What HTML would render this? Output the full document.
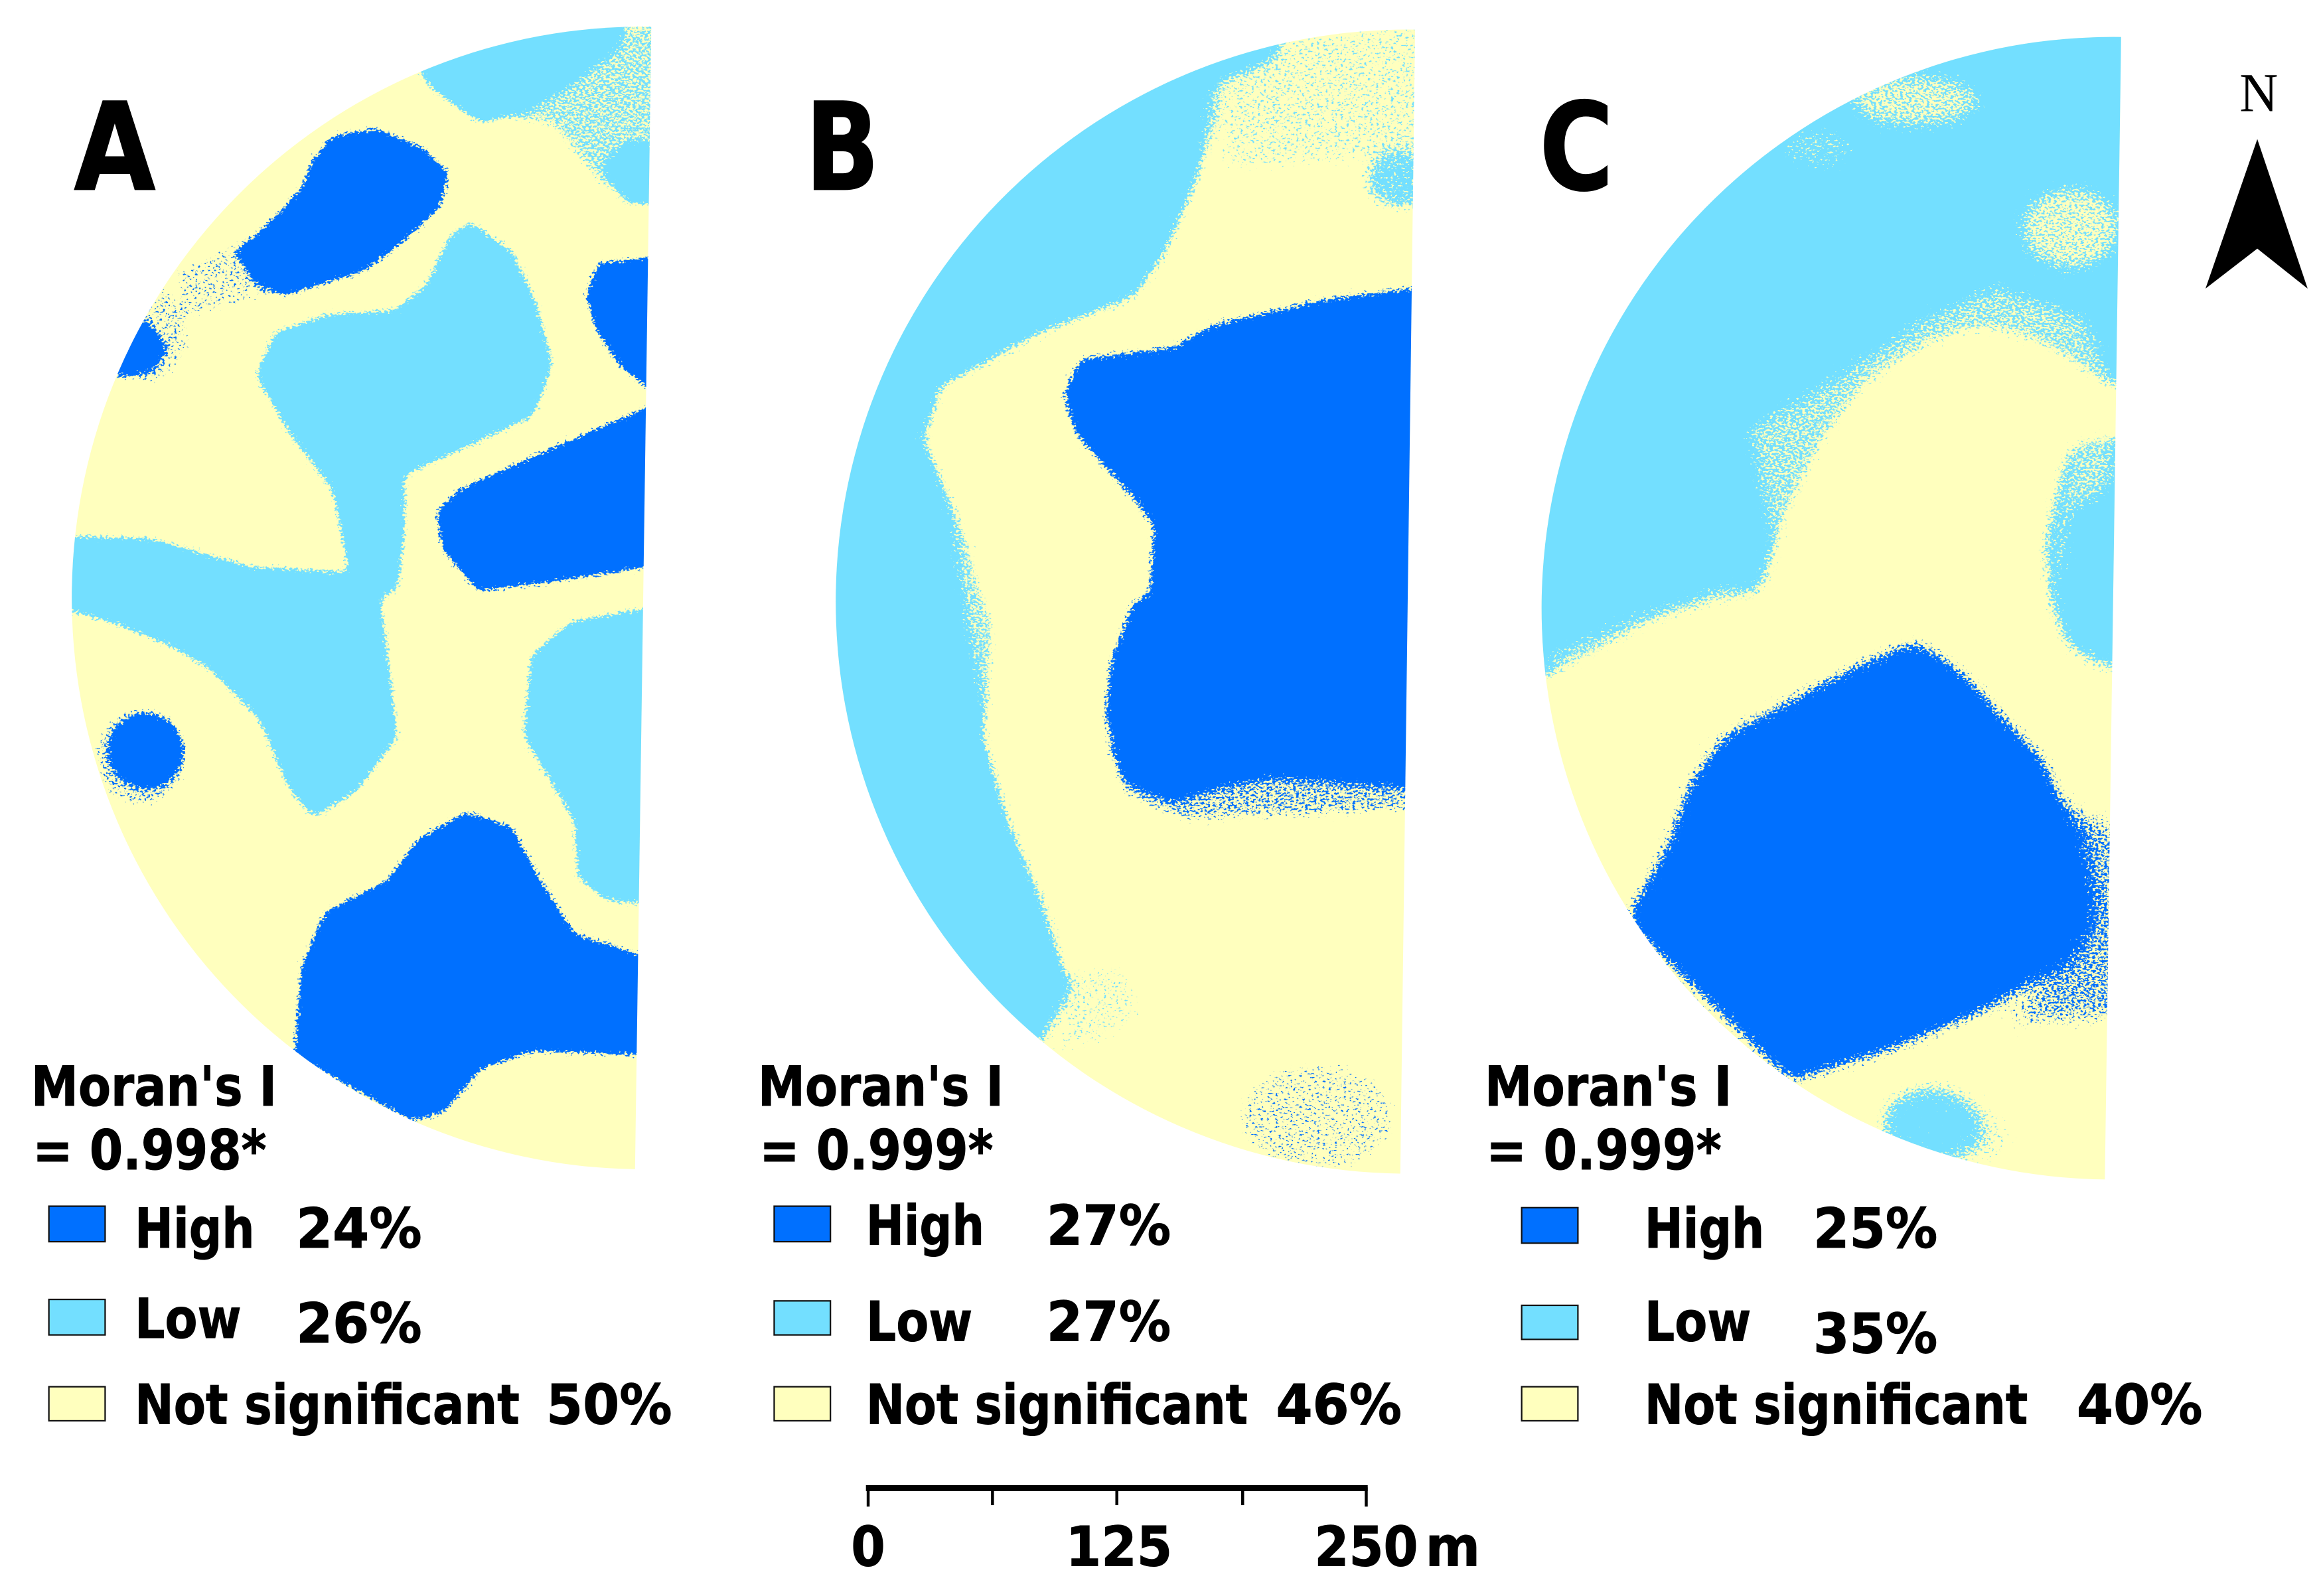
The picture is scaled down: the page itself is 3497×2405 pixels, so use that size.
<!DOCTYPE html>
<html lang="en">
<head>
<meta charset="utf-8">
<title>Moran's I cluster maps</title>
<style>
html,body{margin:0;padding:0;background:#fff;width:3497px;height:2405px;overflow:hidden}
svg{display:block}
.t{font-family:"DejaVu Sans","Liberation Sans",sans-serif;font-weight:700;fill:#000}
.h{font-size:37px;stroke:#000;stroke-width:.45px}
.p{font-size:82px;stroke:#000;stroke-width:.8px}
.sw{stroke:#111;stroke-width:1}
.hi{fill:#0070ff}
.lo{fill:#73dfff}
.ns{fill:#ffffbe}
</style>
</head>
<body>
<svg xmlns="http://www.w3.org/2000/svg" width="3497" height="2405" viewBox="0 0 1568 1078.4">
<defs>
<filter id="hiA" filterUnits="userSpaceOnUse" x="0" y="0" width="480" height="830" color-interpolation-filters="sRGB">
  <feGaussianBlur in="SourceAlpha" stdDeviation="3.2" result="b"/>
  <feTurbulence type="fractalNoise" baseFrequency="0.5 0.75" numOctaves="2" seed="4" result="t"/>
  <feColorMatrix in="t" type="matrix" values="0 0 0 0 0 0 0 0 0 0 0 0 0 0 0 1 0 0 0 0" result="n"/>
  <feComposite in="b" in2="n" operator="arithmetic" k1="0" k2="1" k3="1" k4="0" result="s"/>
  <feColorMatrix in="s" type="matrix" values="0 0 0 0 0 0 0 0 0 0 0 0 0 0 0 0 0 0 20 -19" result="m"/>
  <feFlood flood-color="#0070ff"/>
  <feComposite in2="m" operator="in"/>
</filter>
<filter id="loA" filterUnits="userSpaceOnUse" x="0" y="0" width="480" height="830" color-interpolation-filters="sRGB">
  <feGaussianBlur in="SourceAlpha" stdDeviation="3.6" result="b"/>
  <feTurbulence type="fractalNoise" baseFrequency="0.5 0.75" numOctaves="2" seed="7" result="t"/>
  <feColorMatrix in="t" type="matrix" values="0 0 0 0 0 0 0 0 0 0 0 0 0 0 0 1 0 0 0 0" result="n"/>
  <feComposite in="b" in2="n" operator="arithmetic" k1="0" k2="1" k3="1" k4="0" result="s"/>
  <feColorMatrix in="s" type="matrix" values="0 0 0 0 0 0 0 0 0 0 0 0 0 0 0 0 0 0 20 -19" result="m"/>
  <feFlood flood-color="#73dfff"/>
  <feComposite in2="m" operator="in"/>
</filter>
<filter id="hiB" filterUnits="userSpaceOnUse" x="520" y="0" width="470" height="830" color-interpolation-filters="sRGB">
  <feGaussianBlur in="SourceAlpha" stdDeviation="4" result="b"/>
  <feTurbulence type="fractalNoise" baseFrequency="0.5 0.75" numOctaves="2" seed="11" result="t"/>
  <feColorMatrix in="t" type="matrix" values="0 0 0 0 0 0 0 0 0 0 0 0 0 0 0 1 0 0 0 0" result="n"/>
  <feComposite in="b" in2="n" operator="arithmetic" k1="0" k2="1" k3="1" k4="0" result="s"/>
  <feColorMatrix in="s" type="matrix" values="0 0 0 0 0 0 0 0 0 0 0 0 0 0 0 0 0 0 20 -19" result="m"/>
  <feFlood flood-color="#0070ff"/>
  <feComposite in2="m" operator="in"/>
</filter>
<filter id="loB" filterUnits="userSpaceOnUse" x="520" y="0" width="470" height="830" color-interpolation-filters="sRGB">
  <feGaussianBlur in="SourceAlpha" stdDeviation="5" result="b"/>
  <feTurbulence type="fractalNoise" baseFrequency="0.5 0.75" numOctaves="2" seed="13" result="t"/>
  <feColorMatrix in="t" type="matrix" values="0 0 0 0 0 0 0 0 0 0 0 0 0 0 0 1 0 0 0 0" result="n"/>
  <feComposite in="b" in2="n" operator="arithmetic" k1="0" k2="1" k3="1" k4="0" result="s"/>
  <feColorMatrix in="s" type="matrix" values="0 0 0 0 0 0 0 0 0 0 0 0 0 0 0 0 0 0 20 -19" result="m"/>
  <feFlood flood-color="#73dfff"/>
  <feComposite in2="m" operator="in"/>
</filter>
<filter id="nsB" filterUnits="userSpaceOnUse" x="520" y="0" width="470" height="830" color-interpolation-filters="sRGB">
  <feGaussianBlur in="SourceAlpha" stdDeviation="5" result="b"/>
  <feTurbulence type="fractalNoise" baseFrequency="0.5 0.75" numOctaves="2" seed="15" result="t"/>
  <feColorMatrix in="t" type="matrix" values="0 0 0 0 0 0 0 0 0 0 0 0 0 0 0 1 0 0 0 0" result="n"/>
  <feComposite in="b" in2="n" operator="arithmetic" k1="0" k2="1" k3="1" k4="0" result="s"/>
  <feColorMatrix in="s" type="matrix" values="0 0 0 0 0 0 0 0 0 0 0 0 0 0 0 0 0 0 20 -19" result="m"/>
  <feFlood flood-color="#ffffbe"/>
  <feComposite in2="m" operator="in"/>
</filter>
<filter id="hiC" filterUnits="userSpaceOnUse" x="1000" y="0" width="470" height="830" color-interpolation-filters="sRGB">
  <feGaussianBlur in="SourceAlpha" stdDeviation="7" result="b"/>
  <feTurbulence type="fractalNoise" baseFrequency="0.5 0.75" numOctaves="2" seed="17" result="t"/>
  <feColorMatrix in="t" type="matrix" values="0 0 0 0 0 0 0 0 0 0 0 0 0 0 0 1 0 0 0 0" result="n"/>
  <feComposite in="b" in2="n" operator="arithmetic" k1="0" k2="1" k3="1" k4="0" result="s"/>
  <feColorMatrix in="s" type="matrix" values="0 0 0 0 0 0 0 0 0 0 0 0 0 0 0 0 0 0 20 -19" result="m"/>
  <feFlood flood-color="#0070ff"/>
  <feComposite in2="m" operator="in"/>
</filter>
<filter id="loC" filterUnits="userSpaceOnUse" x="1000" y="0" width="470" height="830" color-interpolation-filters="sRGB">
  <feGaussianBlur in="SourceAlpha" stdDeviation="8" result="b"/>
  <feTurbulence type="fractalNoise" baseFrequency="0.5 0.75" numOctaves="2" seed="21" result="t"/>
  <feColorMatrix in="t" type="matrix" values="0 0 0 0 0 0 0 0 0 0 0 0 0 0 0 1 0 0 0 0" result="n"/>
  <feComposite in="b" in2="n" operator="arithmetic" k1="0" k2="1" k3="1" k4="0" result="s"/>
  <feColorMatrix in="s" type="matrix" values="0 0 0 0 0 0 0 0 0 0 0 0 0 0 0 0 0 0 20 -19" result="m"/>
  <feFlood flood-color="#73dfff"/>
  <feComposite in2="m" operator="in"/>
</filter>
<filter id="nsC" filterUnits="userSpaceOnUse" x="1000" y="0" width="470" height="830" color-interpolation-filters="sRGB">
  <feGaussianBlur in="SourceAlpha" stdDeviation="6" result="b"/>
  <feTurbulence type="fractalNoise" baseFrequency="0.5 0.75" numOctaves="2" seed="25" result="t"/>
  <feColorMatrix in="t" type="matrix" values="0 0 0 0 0 0 0 0 0 0 0 0 0 0 0 1 0 0 0 0" result="n"/>
  <feComposite in="b" in2="n" operator="arithmetic" k1="0" k2="1" k3="1" k4="0" result="s"/>
  <feColorMatrix in="s" type="matrix" values="0 0 0 0 0 0 0 0 0 0 0 0 0 0 0 0 0 0 20 -19" result="m"/>
  <feFlood flood-color="#ffffbe"/>
  <feComposite in2="m" operator="in"/>
</filter>
<clipPath id="clipA"><path d="M440,18 A1,1 0 0 0 429,790 Z"/></clipPath>
<clipPath id="clipB"><path d="M956,20 A1,1 0 0 0 946,793 Z"/></clipPath>
<clipPath id="clipC"><path d="M1433,25 A1,1 0 0 0 1422,797 Z"/></clipPath>
</defs>

<rect width="1568" height="1079" fill="#fff"/>

<!-- Panel A -->
<g clip-path="url(#clipA)">
  <rect class="ns" x="0" y="0" width="460" height="800"/>
  <g filter="url(#loA)" fill="#000">
    <polygon points="280,40 291,59 325,83 351,76 385,55 415,32 425,5 280,5"/>
    <polygon fill-opacity=".48" points="372,55 400,25 450,10 450,145 405,125 372,85 345,82"/>
    <polygon points="408,112 424,138 450,135 450,100 425,98"/>
    <polygon points="317,150 346,170 362,205 373,246 360,281 312,303 273,321 273,361 268,400 238,400 233,371 225,331 196,293 173,253 186,225 220,213 267,210 288,193 304,160"/>
    <polygon points="20,362 102,364 168,383 233,387 262,395 257,407 262,446 268,498 241,534 212,552 196,534 175,485 141,451 115,436 75,420 20,405"/>
    <polygon points="450,409 386,420 359,443 354,497 388,554 391,593 409,608 450,612"/>
  </g>
  <g filter="url(#hiA)" fill="#000">
    <polygon points="254,87 285,100 303,117 297,140 270,165 246,183 191,200 173,190 160,170 183,150 204,127 212,107 225,92"/>
    <polygon fill-opacity=".32" points="118,183 165,160 190,195 170,205 125,215"/>
    <polygon points="75,256 96,215 112,235 102,250"/>
    <ellipse fill-opacity=".32" cx="102" cy="226" rx="26" ry="34"/>
    <polygon points="450,173 404,178 396,200 404,225 420,248 450,272"/>
    <polygon points="450,270 373,303 310,331 295,346 299,371 323,399 365,394 450,381"/>
    <circle cx="99" cy="507" r="24"/>
    <ellipse fill-opacity=".38" cx="95" cy="512" rx="31" ry="33"/>
    <polygon points="315,549 346,559 365,595 388,631 450,651 450,713 360,710 325,722 299,752 278,757 199,713 204,652 220,616 262,595 283,567"/>
  </g>
</g>

<!-- Panel B -->
<g clip-path="url(#clipB)">
  <rect class="ns" x="520" y="0" width="460" height="810"/>
  <g filter="url(#loB)" fill="#000">
    <polygon points="703,703 722,667 703,608 680,554 664,498 669,420 661,402 651,361 624,298 635,261 701,225 766,200 787,170 808,122 819,85 822,54 858,39 872,10 530,0 530,810 680,790"/>
    <polygon fill-opacity=".33" points="820,60 865,25 970,10 970,100 900,112 825,115"/>
    <ellipse fill-opacity=".62" cx="947" cy="122" rx="26" ry="20"/>
    <polygon fill-opacity=".3" points="722,655 760,650 775,690 710,718"/>
  </g>
  <g filter="url(#nsB)" fill="#000">
    <polygon fill-opacity=".48" points="620,292 640,262 690,235 680,262 662,330 680,400 668,505 650,420 640,345"/>
    <polygon fill-opacity=".48" points="782,178 806,120 816,58 840,50 832,110 808,172"/>
  </g>
  <g filter="url(#hiB)" fill="#000">
    <polygon points="970,193 893,203 819,220 793,235 730,243 719,266 727,293 766,336 780,356 777,402 766,407 751,446 747,485 761,528 793,540 819,531 858,523 970,531"/>
    <polygon fill-opacity=".42" points="745,500 960,520 960,548 800,556 760,538"/>
    <ellipse fill-opacity=".3" cx="890" cy="755" rx="54" ry="37"/>
  </g>
</g>

<!-- Panel C -->
<g clip-path="url(#clipC)">
  <rect class="ns" x="1020" y="0" width="430" height="810"/>
  <g filter="url(#loC)" fill="#000">
    <polygon points="1020,468 1044,456 1110,420 1163,402 1189,400 1205,341 1233,290 1262,253 1307,227 1341,217 1383,230 1420,255 1460,270 1460,0 1020,0"/>
    <polygon points="1460,292 1399,303 1383,366 1386,407 1399,438 1426,451 1460,451"/>
    <ellipse cx="1304" cy="760" rx="34" ry="26" fill-opacity=".8"/>
    <ellipse cx="1335" cy="768" rx="28" ry="20" fill-opacity=".3"/>
  </g>
  <g filter="url(#nsC)" fill="#000">
    <ellipse fill-opacity=".52" cx="1294" cy="68" rx="46" ry="20"/>
    <ellipse fill-opacity=".33" cx="1228" cy="100" rx="26" ry="16"/>
    <ellipse fill-opacity=".55" cx="1399" cy="154" rx="36" ry="30"/>
    <polygon fill-opacity=".46" points="1178,288 1240,252 1300,212 1350,190 1410,212 1432,262 1300,270 1215,335 1198,385"/>
    <polygon fill-opacity=".46" points="1042,442 1110,412 1170,392 1195,412 1100,440 1050,468"/>
    <polygon fill-opacity=".46" points="1396,300 1430,285 1430,330 1400,350 1392,410 1382,380"/>
  </g>
  <g filter="url(#hiC)" fill="#000">
    <polygon points="1294,434 1322,452 1352,484 1380,514 1404,570 1412,621 1395,648 1341,682 1281,707 1210,730 1099,622 1128,570 1142,530 1165,498 1223,467 1260,448"/>
    <polygon fill-opacity=".45" points="1395,540 1440,560 1440,690 1350,695 1390,650"/>
  </g>
</g>

<!-- Panel letters -->
<text class="t p" x="50" y="128" textLength="55" lengthAdjust="spacingAndGlyphs">A</text>
<text class="t p" x="544" y="128" textLength="50" lengthAdjust="spacingAndGlyphs">B</text>
<text class="t p" x="1040" y="128" textLength="50" lengthAdjust="spacingAndGlyphs">C</text>

<!-- Legend A -->
<g>
  <text class="t h" x="21" y="747" textLength="166" lengthAdjust="spacingAndGlyphs">Moran's I</text>
  <text class="t h" x="22" y="790" textLength="158" lengthAdjust="spacingAndGlyphs">= 0.998*</text>
  <rect class="sw hi" x="33" y="815" width="38" height="24"/>
  <text class="t h" x="91" y="843" textLength="81" lengthAdjust="spacingAndGlyphs">High</text>
  <text class="t h" x="200" y="843" textLength="85" lengthAdjust="spacingAndGlyphs">24%</text>
  <rect class="sw lo" x="33" y="878" width="38" height="24"/>
  <text class="t h" x="91" y="904" textLength="72" lengthAdjust="spacingAndGlyphs">Low</text>
  <text class="t h" x="200" y="907" textLength="85" lengthAdjust="spacingAndGlyphs">26%</text>
  <rect class="sw ns" x="33" y="937" width="38" height="23"/>
  <text class="t h" x="91" y="962" textLength="260" lengthAdjust="spacingAndGlyphs">Not significant</text>
  <text class="t h" x="369" y="962" textLength="85" lengthAdjust="spacingAndGlyphs">50%</text>
</g>

<!-- Legend B -->
<g>
  <text class="t h" x="512" y="747" textLength="166" lengthAdjust="spacingAndGlyphs">Moran's I</text>
  <text class="t h" x="513" y="790" textLength="158" lengthAdjust="spacingAndGlyphs">= 0.999*</text>
  <rect class="sw hi" x="523" y="815" width="38" height="24"/>
  <text class="t h" x="585" y="841" textLength="80" lengthAdjust="spacingAndGlyphs">High</text>
  <text class="t h" x="707" y="841" textLength="84" lengthAdjust="spacingAndGlyphs">27%</text>
  <rect class="sw lo" x="523" y="879" width="38" height="23"/>
  <text class="t h" x="585" y="906" textLength="72" lengthAdjust="spacingAndGlyphs">Low</text>
  <text class="t h" x="707" y="906" textLength="84" lengthAdjust="spacingAndGlyphs">27%</text>
  <rect class="sw ns" x="523" y="937" width="38" height="23"/>
  <text class="t h" x="585" y="962" textLength="258" lengthAdjust="spacingAndGlyphs">Not significant</text>
  <text class="t h" x="862" y="962" textLength="85" lengthAdjust="spacingAndGlyphs">46%</text>
</g>

<!-- Legend C -->
<g>
  <text class="t h" x="1003" y="747" textLength="167" lengthAdjust="spacingAndGlyphs">Moran's I</text>
  <text class="t h" x="1004" y="790" textLength="159" lengthAdjust="spacingAndGlyphs">= 0.999*</text>
  <rect class="sw hi" x="1028" y="816" width="38" height="24"/>
  <text class="t h" x="1111" y="843" textLength="81" lengthAdjust="spacingAndGlyphs">High</text>
  <text class="t h" x="1225" y="843" textLength="84" lengthAdjust="spacingAndGlyphs">25%</text>
  <rect class="sw lo" x="1028" y="882" width="38" height="23"/>
  <text class="t h" x="1111" y="906" textLength="72" lengthAdjust="spacingAndGlyphs">Low</text>
  <text class="t h" x="1225" y="914" textLength="84" lengthAdjust="spacingAndGlyphs">35%</text>
  <rect class="sw ns" x="1028" y="937" width="38" height="23"/>
  <text class="t h" x="1111" y="962" textLength="259" lengthAdjust="spacingAndGlyphs">Not significant</text>
  <text class="t h" x="1403" y="962" textLength="85" lengthAdjust="spacingAndGlyphs">40%</text>
</g>

<!-- Scale bar -->
<g>
  <rect x="585" y="1003.5" width="339" height="4" fill="#000"/>
  <rect x="585.5" y="1005" width="2" height="13" fill="#000"/>
  <rect x="669.5" y="1005" width="2" height="12" fill="#000"/>
  <rect x="753.5" y="1005" width="2" height="12" fill="#000"/>
  <rect x="838.5" y="1005" width="2" height="12" fill="#000"/>
  <rect x="922" y="1005" width="2" height="13" fill="#000"/>
  <text class="t h" x="575" y="1058" textLength="23" lengthAdjust="spacingAndGlyphs">0</text>
  <text class="t h" x="720" y="1058" textLength="72" lengthAdjust="spacingAndGlyphs">125</text>
  <text class="t h" x="888" y="1058" textLength="70" lengthAdjust="spacingAndGlyphs">250</text>
  <text class="t h" x="963" y="1058" textLength="37" lengthAdjust="spacingAndGlyphs">m</text>
</g>

<!-- North arrow -->
<g>
  <text x="1513" y="75" font-family="'Liberation Serif',serif" font-size="37" fill="#000" textLength="26" lengthAdjust="spacingAndGlyphs">N</text>
  <polygon points="1525,94 1559,195 1525,168 1490,195" fill="#000"/>
</g>
</svg>
</body>
</html>
